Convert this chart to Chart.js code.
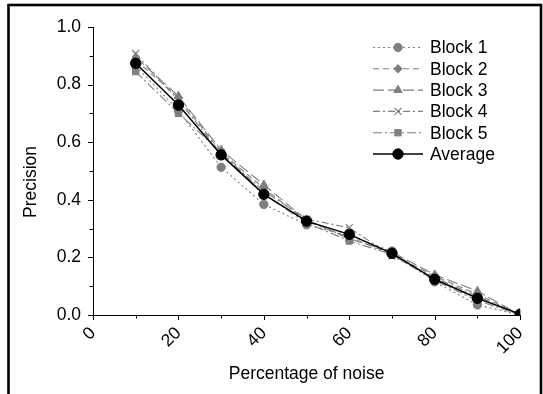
<!DOCTYPE html>
<html><head><meta charset="utf-8">
<script src="https://cdn.jsdelivr.net/npm/chart.js@4/dist/chart.umd.min.js"></script>
<style>html,body{margin:0;padding:0;background:#fff}#wrap{position:relative;width:543px;height:394px}</style>
</head><body><div id="wrap"><canvas id="c" width="543" height="394"></canvas></div>
<script>
const noise = [10, 20, 30, 40, 50, 60, 70, 80, 90, 100];
const block1 = [0.865, 0.71, 0.513, 0.384, 0.313, 0.275, 0.222, 0.115, 0.035, 0.0];
const block2 = [0.885, 0.755, 0.565, 0.44, 0.325, 0.27, 0.21, 0.135, 0.072, 0.0];
const block3 = [0.895, 0.76, 0.573, 0.452, 0.33, 0.265, 0.218, 0.14, 0.083, 0.0];
const block4 = [0.908, 0.745, 0.56, 0.43, 0.333, 0.303, 0.205, 0.13, 0.065, 0.0];
const block5 = [0.845, 0.70, 0.565, 0.42, 0.32, 0.257, 0.21, 0.12, 0.05, 0.0];
const average = [0.874, 0.729, 0.556, 0.419, 0.326, 0.28, 0.214, 0.124, 0.058, 0.003];
const seriesNames = ['Block 1', 'Block 2', 'Block 3', 'Block 4', 'Block 5', 'Average'];
const xTicks = [0, 20, 40, 60, 80, 100];
const yTicks = [0, 0.2, 0.4, 0.6, 0.8, 1.0];
const yTitle = 'Precision';
const xTitle = 'Percentage of noise';

const FONT = 'Liberation Sans, Arial, sans-serif';
const GRAY = '#7f7f7f';
const styles = [
  {pointStyle: 'circle', radius: 4.2, dash: [2, 3], color: GRAY},
  {pointStyle: 'rectRot', radius: 4.2, dash: [6, 4], color: GRAY},
  {pointStyle: 'triangle', radius: 4.8, dash: [11, 4], color: GRAY},
  {pointStyle: 'crossRot', radius: 5, dash: [7, 3, 2, 3], color: GRAY},
  {pointStyle: 'rect', radius: 4.5, dash: [9, 3, 2, 3], color: GRAY},
  {pointStyle: 'circle', radius: 5.2, dash: [], color: '#000'}
];
const allData = [block1, block2, block3, block4, block5, average];

const datasets = allData.map((arr, i) => ({
  label: seriesNames[i],
  data: arr.map((v, j) => ({x: noise[j], y: v})),
  order: i === 5 ? 0 : 6 - i,
  borderColor: styles[i].color,
  backgroundColor: styles[i].color,
  borderWidth: i === 5 ? 1.5 : 1.1,
  borderDash: styles[i].dash,
  pointStyle: styles[i].pointStyle,
  pointRadius: styles[i].radius,
  pointBorderWidth: i === 3 ? 1.2 : 1,
  pointBackgroundColor: styles[i].color,
  pointBorderColor: styles[i].color,
  tension: 0,
  fill: false
}));

const extras = {
  id: 'extras',
  afterDraw(chart) {
    const ctx = chart.ctx;
    const xs = chart.scales.x, ys = chart.scales.y;
    ctx.save();
    ctx.strokeStyle = '#000';
    ctx.lineWidth = 1;
    ctx.setLineDash([]);
    // ticks
    const y0 = ys.getPixelForValue(0);
    for (let v = 0; v <= 100; v += 10) {
      const px = Math.round(xs.getPixelForValue(v)) + 0.5;
      const len = (v % 20 === 0) ? 5 : 3.5;
      ctx.beginPath(); ctx.moveTo(px, y0); ctx.lineTo(px, y0 + len); ctx.stroke();
    }
    const x0 = xs.getPixelForValue(0);
    for (let k = 0; k <= 10; k++) {
      const py = Math.round(ys.getPixelForValue(k / 10)) + 0.5;
      const len = (k % 2 === 0) ? 5 : 3.5;
      ctx.beginPath(); ctx.moveTo(x0, py); ctx.lineTo(x0 - len, py); ctx.stroke();
    }
    // y title
    ctx.font = '17.5px ' + FONT;
    ctx.fillStyle = '#000';
    ctx.save();
    ctx.translate(31, 182);
    ctx.rotate(-Math.PI / 2);
    ctx.textAlign = 'center';
    ctx.textBaseline = 'middle';
    ctx.fillText(yTitle, 0, 0);
    ctx.restore();
    // legend
    const lx1 = 373, lx2 = 423, lmx = 398, tx = 430;
    ctx.textBaseline = 'middle';
    ctx.textAlign = 'left';
    seriesNames.forEach((name, i) => {
      const ly = 47.5 + i * 21.3;
      const st = styles[i];
      ctx.strokeStyle = st.color;
      ctx.lineWidth = i === 5 ? 1.5 : 1.1;
      ctx.setLineDash(st.dash);
      ctx.beginPath(); ctx.moveTo(lx1, ly); ctx.lineTo(lx2, ly); ctx.stroke();
      ctx.setLineDash([]);
      ctx.fillStyle = st.color;
      ctx.lineWidth = i === 3 ? 1.2 : 1;
      Chart.helpers.drawPoint(ctx, {pointStyle: st.pointStyle, radius: st.radius, rotation: 0, borderWidth: 1}, lmx, ly);
      ctx.fillStyle = '#000';
      ctx.fillText(name, tx, ly + 1);
    });
    // frame
    ctx.strokeStyle = '#000';
    ctx.lineWidth = 2.6;
    ctx.setLineDash([]);
    ctx.strokeRect(8.5, 5, 532.5, 440);
    ctx.restore();
  }
};

new Chart(document.getElementById('c'), {
  type: 'line',
  data: {datasets},
  plugins: [extras],
  options: {
    responsive: false,
    animation: false,
    devicePixelRatio: 1,
    layout: {padding: {left: 0, top: 27, right: 17, bottom: 0}},
    plugins: {legend: {display: false}, tooltip: {enabled: false}},
    scales: {
      x: {
        type: 'linear', min: 0, max: 100,
        afterBuildTicks(s) { s.ticks = xTicks.map(v => ({value: v})); },
        afterFit(s) { s.height = 79; },
        grid: {display: false, drawTicks: false},
        border: {display: true, color: '#000', width: 1},
        ticks: {color: '#000', font: {family: FONT, size: 17.5}, minRotation: 45, maxRotation: 45, padding: 8, autoSkip: false},
        title: {display: true, text: xTitle, color: '#000', font: {family: FONT, size: 17.5}, padding: {top: 0, bottom: 9.5}}
      },
      y: {
        type: 'linear', min: 0, max: 1,
        afterBuildTicks(s) { s.ticks = yTicks.map(v => ({value: v})); },
        afterFit(s) { s.width = 93; },
        grid: {display: false, drawTicks: false},
        border: {display: true, color: '#000', width: 1},
        ticks: {color: '#000', font: {family: FONT, size: 17.5}, padding: 12, callback: v => Number(v).toFixed(1)},
        title: {display: false}
      }
    }
  }
});
</script></body></html>
